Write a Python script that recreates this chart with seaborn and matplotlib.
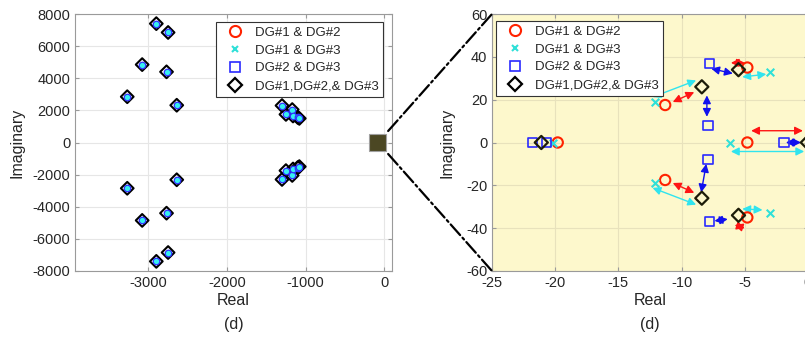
import numpy as np
import matplotlib
matplotlib.use("Agg")
import matplotlib.pyplot as plt
import seaborn as sns
from matplotlib.lines import Line2D
from matplotlib.patches import Rectangle, ConnectionPatch

# left panel: full eigenvalue map (same location for all four cases)
left_re = [-2900, -2750, -3080, -2770, -3270, -2640, -1300, -1170, -1250, -1160, -1100, -1080,
           -2900, -2750, -3080, -2770, -3270, -2640, -1300, -1170, -1250, -1160, -1100, -1080]
left_im = [7400, 6850, 4850, 4400, 2850, 2320, 2300, 2050, 1750, 1650, 1560, 1500,
           -7400, -6850, -4850, -4400, -2850, -2320, -2300, -2050, -1750, -1650, -1560, -1500]

# right panel: zoom near the origin
dg12_re = [-11.3, -11.3, -19.8, -4.8, -4.8, -4.8]
dg12_im = [17.5, -17.5, 0, 0, 35, -35]
dg13_re = [-12.1, -12.1, -20.2, -6.2, -3.0, -3.0]
dg13_im = [19, -19, 0, 0, 33, -33]
dg23_re = [-7.8, -7.8, -7.9, -7.9, -21.8, -20.7, -1.9]
dg23_im = [37, -37, 8, -8, 0, 0, 0]
dg123_re = [-8.4, -8.4, -5.5, -5.5, -21.1, -0.05]
dg123_im = [26, -26, 34, -34, 0, 0]

# double arrows (x0, y0, x1, y1)
red_arrows = [(-10.7, 18.9, -9.0, 23.5), (-10.7, -18.9, -9.0, -23.5), (-6.1, 37.2, -5.0, 37.2),
              (-5.8, -38.5, -5.0, -40.0), (-4.5, 5.5, -0.4, 5.5)]
cyan_arrows = [(-12.3, 21.2, -8.85, 29.0), (-12.3, -21.2, -8.85, -29.0), (-5.2, 30.6, -3.3, 31.9),
               (-5.2, -31.0, -3.6, -31.5), (-6.1, -4.2, -0.3, -4.2)]
blue_arrows = [(-8.0, 22.0, -8.0, 12.0), (-8.05, -10.0, -8.45, -23.3), (-7.66, 34.5, -5.95, 32.2),
               (-7.4, -36.6, -6.35, -35.8), (-1.75, 0.0, -0.55, 0.0)]

labels = ["DG#1 & DG#2", "DG#1 & DG#3", "DG#2 & DG#3", "DG#1,DG#2,& DG#3"]
c_red = "#ff2200"
c_cyan = "#2fe0d8"
c_blue = "#2a2aff"
c_dark = "#1c1c08"

sns.set_style("white")
plt.rcParams["font.family"] = ["Liberation Sans", "DejaVu Sans"]
plt.rcParams["font.size"] = 10
plt.rcParams["axes.unicode_minus"] = False

fig = plt.figure(figsize=(8.05, 3.41), dpi=100)
ax1 = fig.add_axes([75 / 805, 70 / 341, 317 / 805, 257 / 341])
ax2 = fig.add_axes([492 / 805, 70 / 341, 316 / 805, 257 / 341])


def style_axes(ax, grid_color, ylab_x):
    ax.grid(True, color=grid_color, lw=0.8)
    ax.set_axisbelow(True)
    for s in ax.spines.values():
        s.set_color("#9a9a9a")
        s.set_linewidth(0.8)
    ax.tick_params(direction="in", length=3, color="#9a9a9a", labelsize=10.5,
                   labelcolor="#262626", top=True, right=True, bottom=True, left=True)
    ax.set_xlabel("Real", fontsize=11.5, color="#262626", labelpad=2)
    ax.set_ylabel("Imaginary", fontsize=11.5, color="#262626")
    ax.yaxis.set_label_coords(ylab_x, 0.5)
    ax.text(0.5, -0.21, "(d)", transform=ax.transAxes, ha="center", va="center",
            fontsize=11.5, color="#262626")


# ---- left panel
ax1.add_patch(Rectangle((-190, -500), 215, 1000, facecolor="#4b4723", edgecolor="#a0a0a0", lw=0.8, zorder=3))
sns.scatterplot(x=left_re, y=left_im, marker="D", s=42, facecolor="none", edgecolor="black",
                linewidth=1.5, ax=ax1, zorder=4)
sns.scatterplot(x=left_re, y=left_im, marker="o", s=22, facecolor="#35f0f0", edgecolor="#3030ff",
                linewidth=0.9, ax=ax1, zorder=5)
ax1.set_xlim(-3935, 100)
ax1.set_ylim(-8000, 8000)
ax1.set_xticks([-3000, -2000, -1000, 0])
ax1.set_yticks(np.arange(-8000, 8001, 2000))
style_axes(ax1, "#e6e6e6", -0.16)

# ---- right panel
ax2.set_facecolor("#fdf8cc")
for arrows, col in [(red_arrows, "#ff1414"), (cyan_arrows, "#30e4ee"), (blue_arrows, "#1010ee")]:
    for x0, y0, x1, y1 in arrows:
        ax2.annotate("", xy=(x1, y1), xytext=(x0, y0),
                     arrowprops=dict(arrowstyle="<|-|>", color=col, lw=1.0,
                                     mutation_scale=12, shrinkA=0, shrinkB=0))
sns.scatterplot(x=dg12_re, y=dg12_im, marker="o", s=55, facecolor="none", edgecolor=c_red,
                linewidth=1.5, ax=ax2, zorder=4)
sns.scatterplot(x=dg13_re, y=dg13_im, marker="x", s=30, color=c_cyan, linewidth=1.5, ax=ax2, zorder=4)
sns.scatterplot(x=dg23_re, y=dg23_im, marker="s", s=45, facecolor="none", edgecolor=c_blue,
                linewidth=1.2, ax=ax2, zorder=4)
sns.scatterplot(x=dg123_re, y=dg123_im, marker="D", s=45, facecolor="none", edgecolor=c_dark,
                linewidth=1.6, ax=ax2, zorder=5)
ax2.set_xlim(-25, 0)
ax2.set_ylim(-60, 60)
ax2.set_xticks(np.arange(-25, 1, 5))
ax2.set_yticks(np.arange(-60, 61, 20))
style_axes(ax2, "#e8e2bc", -0.12)

# legends
handles = [
    Line2D([], [], ls="none", marker="o", ms=8, mfc="none", mec=c_red, mew=1.5),
    Line2D([], [], ls="none", marker="x", ms=5, color=c_cyan, mew=1.5),
    Line2D([], [], ls="none", marker="s", ms=7, mfc="none", mec=c_blue, mew=1.2),
    Line2D([], [], ls="none", marker="D", ms=7, mfc="none", mec="black", mew=1.6),
]
for ax, loc, anchor in [(ax1, "upper right", (0.972, 0.969)), (ax2, "upper left", (0.013, 0.973))]:
    leg = ax.legend(handles, labels, loc=loc, bbox_to_anchor=anchor, fontsize=9.5,
                    frameon=True, fancybox=False, framealpha=1, edgecolor="#333333",
                    borderpad=0.35, labelspacing=0.42, handletextpad=0.4, handlelength=2.2,
                    borderaxespad=0)
    leg.get_frame().set_linewidth(0.8)
    leg.set_zorder(10)

# dash-dot connectors from the zoom box to the right panel
for ya, yb in [(716, 60), (-716, -60)]:
    con = ConnectionPatch(xyA=(51, ya), coordsA=ax1.transData, xyB=(-25, yb), coordsB=ax2.transData,
                          linestyle="-.", color="black", lw=1.6)
    fig.add_artist(con)

fig.savefig("out.png", dpi=100)
